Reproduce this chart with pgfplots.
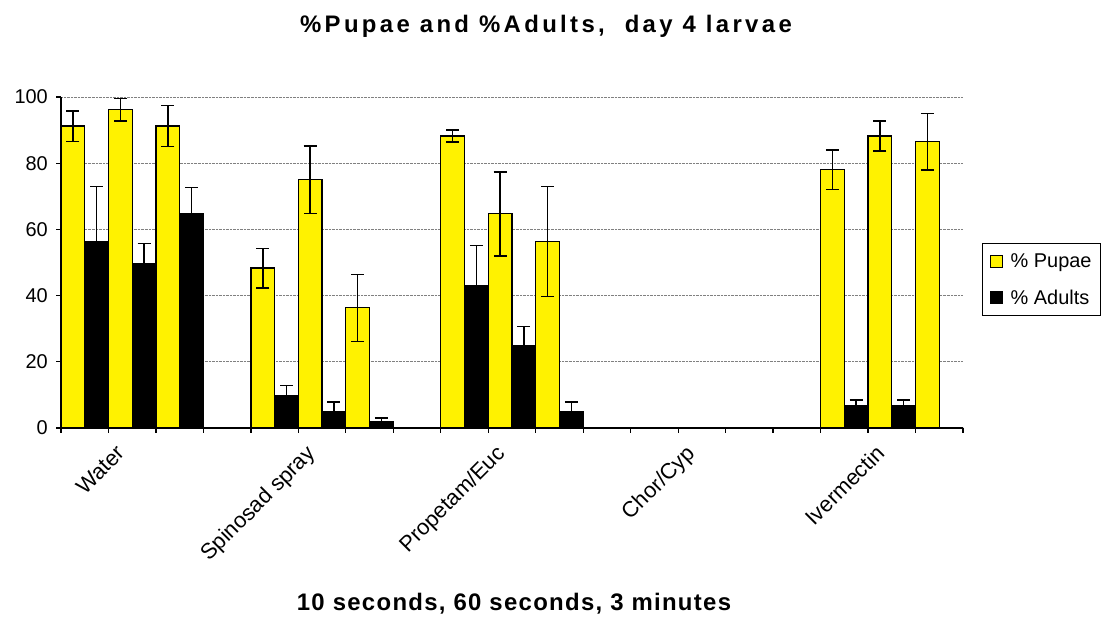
\documentclass[border=0pt]{standalone}
\usepackage{pgfplots}
\pgfplotsset{compat=1.18}
\usepackage{pgfplotstable}
\usepackage{fontspec}
\setmainfont{Liberation Sans}
\newfontfamily\titlefont[LetterSpace=14]{Liberation Sans}
\newfontfamily\xlabfont[LetterSpace=5.5]{Liberation Sans}

% x: category slot (4 slots per treatment incl. the gap), y: mean, e: error
\pgfplotstableread{
x     y     e
0.25  91.2  4.6
1.25  96.2  3.4
2.25  91.2  6.2
4.25  48.3  6.0
5.25  75.0  10.2
6.25  36.3  10.1
8.25  88.2  1.8
9.25  64.7  12.7
10.25 56.3  16.6
12.25 0     0
13.25 0     0
14.25 0     0
16.25 78.0  6.0
17.25 88.2  4.5
18.25 86.5  8.5
}\pupae

\pgfplotstableread{
x     y     e
0.75  56.3  16.7
1.75  49.8  5.9
2.75  64.8  7.8
4.75  9.9   2.9
5.75  5.0   2.8
6.75  1.9   1.1
8.75  43.0  12.1
9.75  25.0  5.7
10.75 4.9   3.0
12.75 0     0
13.75 0     0
14.75 0     0
16.75 6.7   1.7
17.75 6.7   1.7
18.75 0     0
}\adults

\begin{document}
\begin{tikzpicture}[x=1bp,y=1bp]
\path[use as bounding box] (0,0) rectangle (1105,621);
\begin{axis}[
  at={(61bp,193bp)}, anchor=south west,
  scale only axis, width=902bp, height=331bp,
  xmin=0, xmax=19, ymin=0, ymax=100,
  axis lines*=left, axis line style={-, line width=1.3bp},
  ybar, bar width=0.5,
  ytick={0,20,...,100},
  xtick={0,...,19}, xticklabels={},
  tick align=outside, major tick length=5bp,
  tick style={black, line width=1.3bp},
  ymajorgrids, grid style={densely dotted, gray, line width=0.6bp},
  extra x ticks={1.5,5.5,9.5,13.5,17.5},
  extra x tick labels={Water,Spinosad spray,Propetam/Euc,Chor/Cyp,Ivermectin},
  extra x tick style={major tick length=0pt, grid=none,
    xticklabel style={font=\fontsize{22}{26}\selectfont, rotate=45,
      anchor=north east, inner sep=0pt, xshift=-23bp, yshift=1bp}},
  tick label style={font=\fontsize{20}{24}\selectfont},
  /pgf/number format/assume math mode=true,
  yticklabel style={inner sep=0pt, xshift=-8bp},
  legend style={at={(1.153,0.559)}, anchor=north east,
    draw=black, line width=1bp, font=\fontsize{20}{24}\selectfont,
    inner xsep=7bp, inner ysep=8bp, row sep=17bp,
    legend cell align=left},
]
\addlegendimage{legend image code/.code={\draw[fill=yellow,draw=black,line width=1bp] (0bp,-6bp) rectangle (12bp,6bp); \path (18bp,0bp);}}
\addlegendentry{\% Pupae}
\addlegendimage{legend image code/.code={\draw[fill=black,draw=black,line width=1bp] (0bp,-6bp) rectangle (12bp,6bp); \path (18bp,0bp);}}
\addlegendentry{\% Adults}

\addplot[forget plot, bar shift=0pt, fill=yellow, draw=black, line width=1.3bp,
  error bars/y dir=both, error bars/y explicit,
  error bars/error bar style={black, line width=1.5bp},
  error bars/error mark options={rotate=90, mark size=6.5bp, black, line width=1.5bp}]
  table[x=x, y=y, y error=e] {\pupae};
\addplot[forget plot, bar shift=0pt, fill=black, draw=black, line width=1.3bp,
  error bars/y dir=both, error bars/y explicit,
  error bars/error bar style={black, line width=1.5bp},
  error bars/error mark options={rotate=90, mark size=6.5bp, black, line width=1.5bp}]
  table[x=x, y=y, y error=e] {\adults};
\end{axis}
\node[font=\titlefont\fontsize{24}{28}\bfseries] at (546,595) {\%Pupae and \%Adults,\ \ day 4 larvae};
\node[font=\xlabfont\fontsize{24}{28}\bfseries, inner sep=0pt] at (514,17) {10 seconds, 60 seconds, 3 minutes};
\end{tikzpicture}
\end{document}
